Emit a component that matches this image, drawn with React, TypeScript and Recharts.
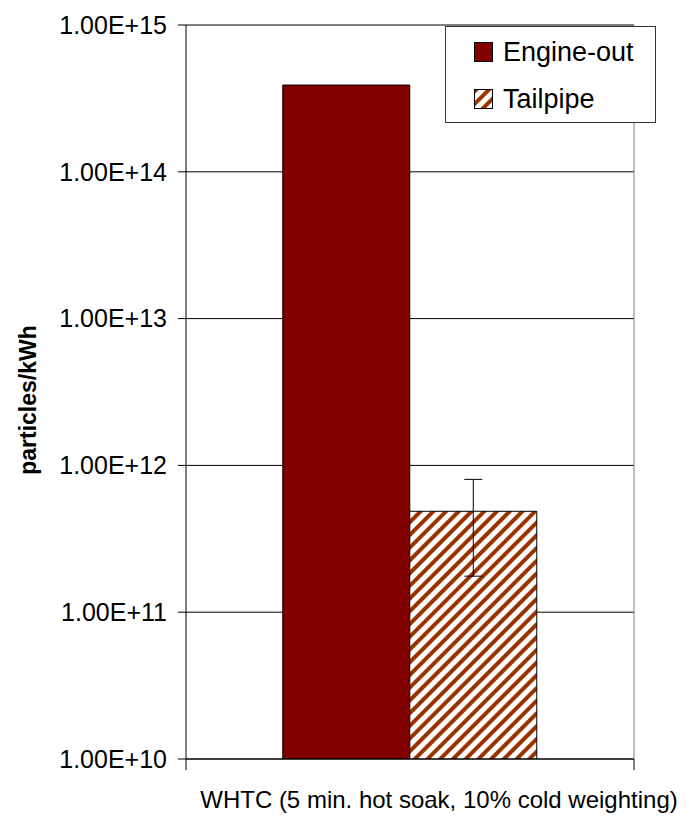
import React from 'react';
import { BarChart, Bar, XAxis, YAxis, CartesianGrid, ErrorBar, Legend } from 'recharts';

const categories = ['WHTC (5 min. hot soak, 10% cold weighting)'];
const engineOut = [3.9e14];
const tailpipe = [4.87e11];
const tailpipeLow = [1.76e11];
const tailpipeHigh = [8.03e11];
const yTicks = [1e10, 1e11, 1e12, 1e13, 1e14, 1e15];
const yTickLabels = ['1.00E+10', '1.00E+11', '1.00E+12', '1.00E+13', '1.00E+14', '1.00E+15'];
const seriesNames = ['Engine-out', 'Tailpipe'];
const yAxisTitle = 'particles/kWh';

const data = categories.map((c, i) => ({
  name: c,
  engineOut: engineOut[i],
  tailpipe: tailpipe[i],
  tailpipeErr: [tailpipe[i] - tailpipeLow[i], tailpipeHigh[i] - tailpipe[i]],
}));

const FONT = '"Liberation Sans", Arial, sans-serif';
const HATCH = '#993300';

const fmtY = (v: number) => {
  const idx = yTicks.findIndex((t) => Math.abs(Math.log10(t) - Math.log10(v)) < 1e-6);
  return idx >= 0 ? yTickLabels[idx] : String(v);
};

const XTick = (props: any) => {
  const { x, y, payload } = props;
  const off = payload && typeof payload.offset === 'number' ? payload.offset : 0;
  return (
    <g>
      {off > 0 && (
        <>
          <line x1={x - off} x2={x - off} y1={759} y2={770} stroke="#000" strokeWidth={1} />
          <line x1={x + off} x2={x + off} y1={759} y2={770} stroke="#000" strokeWidth={1} />
        </>
      )}
      <text x={x + 29} y={808} textAnchor="middle" fontFamily={FONT} fontSize={24} fill="#000">
        {payload.value}
      </text>
    </g>
  );
};

const renderLegend = (props: any) => {
  const payload = props.payload || [];
  return (
    <div
      style={{
        width: 211,
        height: 97,
        border: '1px solid #333',
        background: '#fff',
        boxSizing: 'border-box',
        position: 'relative',
        fontFamily: FONT,
        fontSize: 27,
        color: '#000',
      }}
    >
      {payload.map((p: any, i: number) => (
        <div
          key={i}
          style={{
            position: 'absolute',
            left: 28,
            top: 9 + i * 47,
            height: 32,
            display: 'flex',
            alignItems: 'center',
            whiteSpace: 'nowrap',
          }}
        >
          <svg width={19} height={20} style={{ display: 'block' }}>
            <defs>
              <pattern id={`lg-hatch-${i}`} patternUnits="userSpaceOnUse" width={9} height={9} patternTransform="rotate(45)">
                <rect x={0} y={0} width={9} height={9} fill="#fff" />
                <rect x={0} y={0} width={4} height={9} fill={HATCH} />
              </pattern>
            </defs>
            <rect
              x={0.5}
              y={0.5}
              width={18}
              height={19}
              fill={i === 0 ? '#800000' : `url(#lg-hatch-${i})`}
              stroke="#000"
              strokeWidth={1}
            />
          </svg>
          <span style={{ marginLeft: 10, lineHeight: '32px' }}>{p.value}</span>
        </div>
      ))}
    </div>
  );
};

const YLabel = () => (
  <text
    transform="translate(28,400) rotate(-90)"
    textAnchor="middle"
    dominantBaseline="central"
    fontFamily={FONT}
    fontWeight="bold"
    fontSize={23}
    fill="#000"
  >
    {yAxisTitle}
  </text>
);

export default function App() {
  return (
    <div style={{ position: 'absolute', left: 0, top: 0, width: 687, height: 822, background: '#fff' }}>
      <svg width={0} height={0} style={{ position: 'absolute' }}>
        <defs>
          <pattern id="hatch" patternUnits="userSpaceOnUse" width={9} height={9} patternTransform="rotate(45)">
            <rect x={0} y={0} width={9} height={9} fill="#fff" />
            <rect x={0} y={0} width={4} height={9} fill={HATCH} />
          </pattern>
        </defs>
      </svg>
      <BarChart
        width={687}
        height={822}
        data={data}
        margin={{ top: 25, right: 52, bottom: 0, left: 0 }}
        barCategoryGap="21.6%"
        barGap={0}
      >
        <CartesianGrid horizontal vertical={false} stroke="#000" strokeWidth={1} />
        <XAxis
          dataKey="name"
          height={63}
          axisLine={{ stroke: '#000', strokeWidth: 1 }}
          tickLine={false}
          tick={<XTick />}
          interval={0}
        />
        <YAxis
          scale="log"
          domain={[1e10, 1e15]}
          ticks={yTicks}
          allowDataOverflow
          width={186}
          tickFormatter={fmtY}
          tickSize={8}
          tickMargin={11}
          axisLine={{ stroke: '#000', strokeWidth: 1 }}
          tickLine={{ stroke: '#000', strokeWidth: 1 }}
          tick={{ fill: '#000', fontSize: 25, fontFamily: FONT }}
          label={<YLabel />}
        />
        <YAxis
          yAxisId="right"
          orientation="right"
          width={1}
          domain={[0, 1]}
          tick={false}
          tickLine={false}
          axisLine={{ stroke: '#808080', strokeWidth: 1 }}
        />
        <Legend
          layout="vertical"
          align="center"
          verticalAlign="middle"
          content={renderLegend}
          wrapperStyle={{ position: 'absolute', left: 445, top: 26, width: 211, height: 97 }}
        />
        <Bar
          dataKey="engineOut"
          name={seriesNames[0]}
          fill="#800000"
          stroke="#000"
          strokeWidth={1}
          isAnimationActive={false}
        />
        <Bar
          dataKey="tailpipe"
          name={seriesNames[1]}
          fill="url(#hatch)"
          stroke="#000"
          strokeWidth={1}
          isAnimationActive={false}
        >
          <ErrorBar dataKey="tailpipeErr" width={9} stroke="#000" strokeWidth={1} direction="y" />
        </Bar>
      </BarChart>
    </div>
  );
}
